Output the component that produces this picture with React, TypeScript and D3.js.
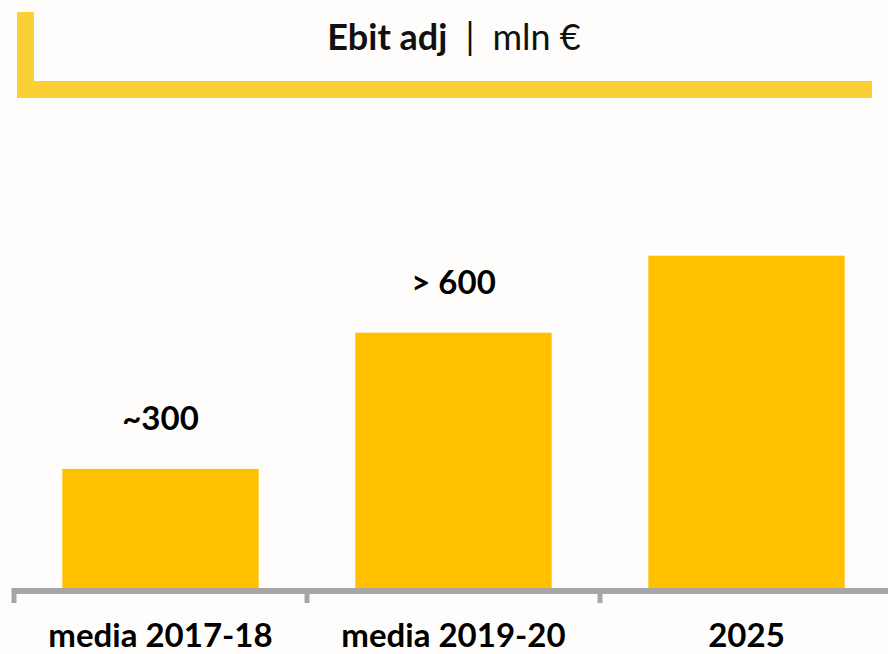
import React, { useEffect, useRef } from "react";
import * as d3 from "d3";

const categories = ["media 2017-18", "media 2019-20", "2025"];
const ebitValues = [300, 643, 837];
const valueLabels = ["~300", "> 600", ""];

const W = 888;
const H = 654;

const App = () => {
  const ref = useRef<SVGSVGElement>(null);

  useEffect(() => {
    document.body.style.margin = "0";
    const svg = d3.select(ref.current);
    svg.selectAll("*").remove();

    svg.append("rect").attr("width", W).attr("height", H).attr("fill", "#fefdfb");

    // title frame
    const frame = "#fad034";
    svg.append("rect").attr("x", 17).attr("y", 12).attr("width", 17).attr("height", 86).attr("fill", frame);
    svg.append("rect").attr("x", 17).attr("y", 81).attr("width", 855).attr("height", 17).attr("fill", frame);

    const title = svg
      .append("text")
      .attr("x", 454)
      .attr("y", 50)
      .attr("text-anchor", "middle")
      .attr("font-family", "Lato, sans-serif")
      .attr("font-size", 36)
      .attr("fill", "#111");
    title.append("tspan").attr("font-weight", "bold").text("Ebit adj");
    title.append("tspan").attr("dx", 18).attr("font-weight", "normal").text("|");
    title.append("tspan").attr("dx", 18).attr("font-weight", "normal").text("mln €");

    const baseY = 588;
    const x = d3
      .scaleBand<string>()
      .domain(categories)
      .range([14, 893])
      .paddingInner(0.33)
      .paddingOuter(0.165);

    const y = d3.scaleLinear().domain([0, 1000]).range([baseY, baseY - 397]);

    const data = categories.map((c, i) => ({ c, v: ebitValues[i], label: valueLabels[i] }));

    // bars
    svg
      .selectAll("rect.bar")
      .data(data)
      .enter()
      .append("rect")
      .attr("class", "bar")
      .attr("x", (d) => x(d.c)!)
      .attr("y", (d) => y(d.v))
      .attr("width", x.bandwidth())
      .attr("height", (d) => y(0) - y(d.v))
      .attr("fill", "#ffc000");

    // value labels
    svg
      .selectAll("text.val")
      .data(data)
      .enter()
      .append("text")
      .attr("class", "val")
      .attr("x", (d) => x(d.c)! + x.bandwidth() / 2)
      .attr("y", (d) => y(d.v) - 39)
      .attr("text-anchor", "middle")
      .attr("font-family", "Lato, sans-serif")
      .attr("font-weight", "bold")
      .attr("font-size", 33)
      .attr("fill", "#000")
      .text((d) => d.label);

    // axis line + ticks at band boundaries
    const axis = "#a6a6a6";
    svg
      .append("line")
      .attr("x1", 12)
      .attr("x2", W)
      .attr("y1", baseY + 3)
      .attr("y2", baseY + 3)
      .attr("stroke", axis)
      .attr("stroke-width", 6);
    const step = x.step();
    const tickXs = categories.map((c) => x(c)! - (step - x.bandwidth()) / 2);
    svg
      .selectAll("line.tick")
      .data(tickXs)
      .enter()
      .append("line")
      .attr("class", "tick")
      .attr("x1", (d) => d)
      .attr("x2", (d) => d)
      .attr("y1", baseY)
      .attr("y2", baseY + 15)
      .attr("stroke", axis)
      .attr("stroke-width", 5);

    // category labels
    svg
      .selectAll("text.cat")
      .data(data)
      .enter()
      .append("text")
      .attr("class", "cat")
      .attr("x", (d) => x(d.c)! + x.bandwidth() / 2)
      .attr("y", 647)
      .attr("text-anchor", "middle")
      .attr("font-family", "Lato, sans-serif")
      .attr("font-weight", "bold")
      .attr("font-size", 33)
      .attr("fill", "#000")
      .text((d) => d.c);
  }, []);

  return <svg ref={ref} width={W} height={H} style={{ display: "block" }} />;
};

export default App;
